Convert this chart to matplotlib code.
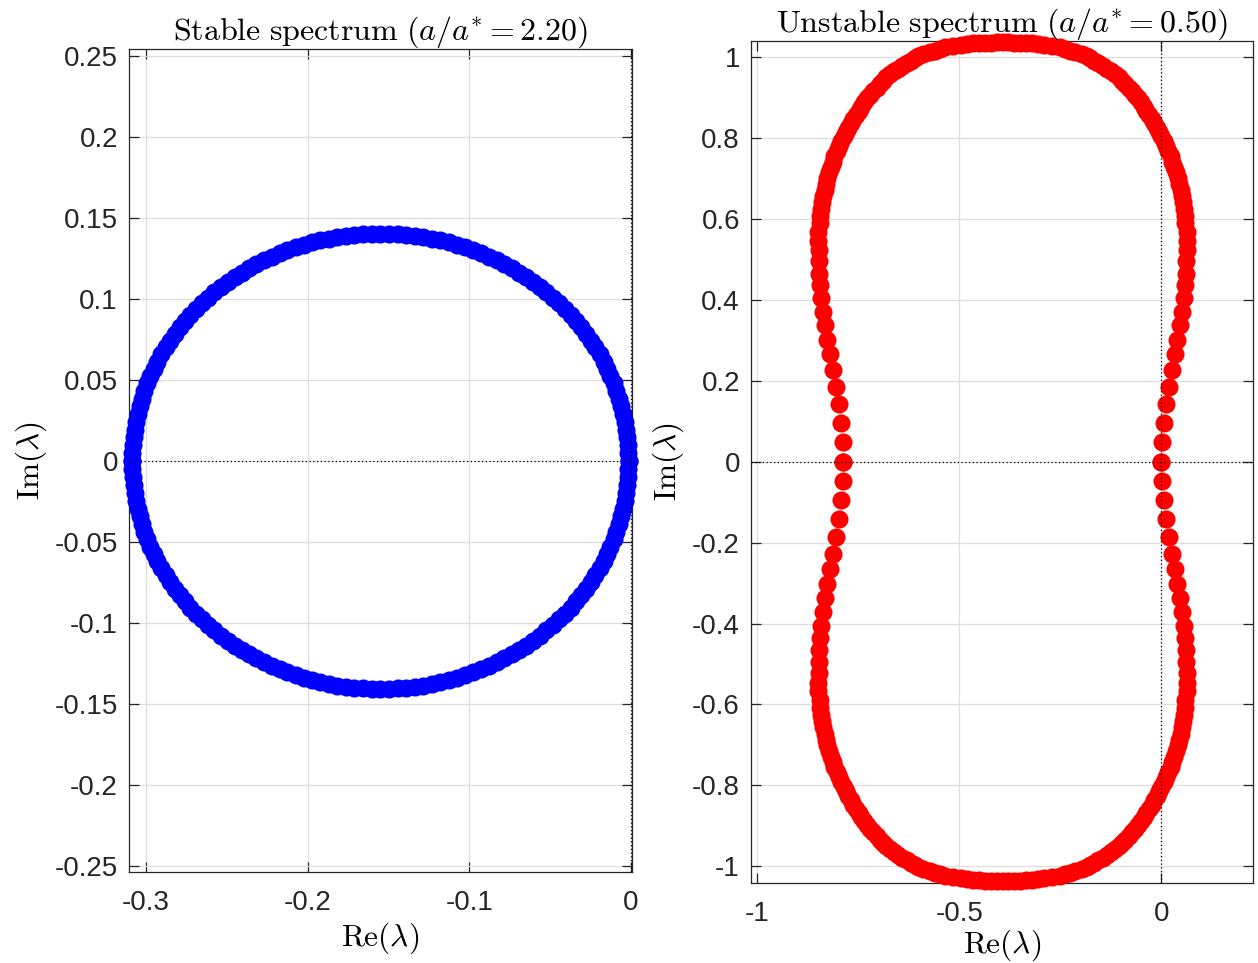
import numpy as np
import matplotlib
matplotlib.use('Agg')
import matplotlib.pyplot as plt
from matplotlib.ticker import FixedLocator, FuncFormatter

plt.rcParams['mathtext.fontset'] = 'cm'
plt.rcParams['font.family'] = ['Liberation Sans', 'DejaVu Sans']
plt.rcParams['axes.unicode_minus'] = False

# eigenvalues, upper half only (lower half = conjugates)
stable_ratio = 2.20
stable_re = [
    -0.0015, -0.0016, -0.0019, -0.0023, -0.0030, -0.0038, -0.0049, -0.0061,
    -0.0075, -0.0090, -0.0108, -0.0127, -0.0148, -0.0170, -0.0195, -0.0221,
    -0.0248, -0.0277, -0.0308, -0.0340, -0.0374, -0.0409, -0.0446, -0.0484,
    -0.0523, -0.0563, -0.0605, -0.0648, -0.0692, -0.0737, -0.0783, -0.0829,
    -0.0877, -0.0926, -0.0975, -0.1025, -0.1076, -0.1127, -0.1179, -0.1231,
    -0.1284, -0.1336, -0.1390, -0.1443, -0.1496, -0.1550,
    -0.1604, -0.1657, -0.1711, -0.1764, -0.1817, -0.1869, -0.1921, -0.1973,
    -0.2024, -0.2075, -0.2125, -0.2174, -0.2223, -0.2271, -0.2318, -0.2363,
    -0.2408, -0.2452, -0.2495, -0.2537, -0.2577, -0.2616, -0.2654, -0.2691,
    -0.2726, -0.2760, -0.2792, -0.2823, -0.2852, -0.2879, -0.2905, -0.2930,
    -0.2952, -0.2973, -0.2992, -0.3010, -0.3026, -0.3039, -0.3052, -0.3062,
    -0.3070, -0.3077, -0.3081, -0.3084, -0.3085,
]
stable_im = [
    0.0, 0.0049, 0.0098, 0.0147, 0.0196, 0.0244, 0.0292, 0.0340, 0.0387,
    0.0434, 0.0481, 0.0526, 0.0572, 0.0616, 0.0660, 0.0703, 0.0745, 0.0786,
    0.0826, 0.0865, 0.0903, 0.0940, 0.0976, 0.1011, 0.1044, 0.1076, 0.1107,
    0.1137, 0.1165, 0.1192, 0.1217, 0.1241, 0.1263, 0.1284, 0.1303, 0.1320,
    0.1336, 0.1351, 0.1363, 0.1374, 0.1384, 0.1391, 0.1397, 0.1402, 0.1404,
    0.1405,
    0.1404, 0.1402, 0.1397, 0.1391, 0.1384, 0.1374, 0.1363, 0.1351, 0.1336,
    0.1320, 0.1303, 0.1284, 0.1263, 0.1241, 0.1217, 0.1192, 0.1165, 0.1137,
    0.1107, 0.1076, 0.1044, 0.1011, 0.0976, 0.0940, 0.0903, 0.0865, 0.0826,
    0.0786, 0.0745, 0.0703, 0.0660, 0.0616, 0.0572, 0.0526, 0.0481, 0.0434,
    0.0387, 0.0340, 0.0292, 0.0244, 0.0196, 0.0147, 0.0098, 0.0049, 0.0,
]

unstable_ratio = 0.50
unstable_re_right = [
    0.0000, 0.0016, 0.0058, 0.0115, 0.0190, 0.0255, 0.0337, 0.0395, 0.0453,
    0.0502, 0.0551, 0.0576, 0.0600, 0.0610, 0.0626,
    0.0632, 0.0625, 0.0595, 0.0572, 0.0550, 0.0526, 0.0500, 0.0472, 0.0440,
    0.0401, 0.0357, 0.0308, 0.0265, 0.0227, 0.0167, 0.0112, 0.0057,
    -0.0002, -0.0061, -0.0120, -0.0180, -0.0239, -0.0303, -0.0369, -0.0435,
    -0.0501, -0.0567, -0.0645, -0.0730, -0.0814, -0.0898, -0.0972, -0.1060,
    -0.1156, -0.1240, -0.1334, -0.1454, -0.1557, -0.1659, -0.1762, -0.1849,
    -0.1965, -0.2128, -0.2258, -0.2387, -0.2518, -0.2694, -0.2910, -0.3054,
    -0.3200, -0.3350, -0.3500, -0.3650, -0.3800, -0.3930,
]
unstable_im_right = [
    0.000, 0.048, 0.0955, 0.1417, 0.185, 0.227, 0.265, 0.302, 0.3375, 0.371,
    0.405, 0.436, 0.465, 0.4955, 0.523,
    0.546, 0.568, 0.589, 0.608, 0.625, 0.641, 0.657, 0.672, 0.687, 0.701,
    0.715, 0.729, 0.742, 0.755, 0.768, 0.780, 0.792,
    0.804, 0.815, 0.826, 0.837, 0.848, 0.858, 0.868, 0.878, 0.888, 0.898,
    0.907, 0.916, 0.925, 0.934, 0.942, 0.950, 0.958, 0.965, 0.972, 0.979,
    0.985, 0.991, 0.997, 1.002, 1.007, 1.012, 1.016, 1.020, 1.024, 1.027,
    1.030, 1.032, 1.034, 1.0347, 1.0355, 1.036, 1.0367, 1.037,
]
unstable_re_left = [
    -0.4060, -0.4210, -0.4360, -0.4510, -0.4660, -0.4806, -0.4950, -0.5166,
    -0.5342, -0.5473, -0.5602, -0.5732, -0.5895, -0.6011, -0.6098, -0.6201,
    -0.6303, -0.6406, -0.6526, -0.6620, -0.6704, -0.6800, -0.6888, -0.6962,
    -0.7046, -0.7130, -0.7215, -0.7293, -0.7359, -0.7425, -0.7491, -0.7557,
    -0.7621, -0.7680, -0.7740, -0.7799, -0.7858,
    -0.7917, -0.7972, -0.8027, -0.8087, -0.8125, -0.8168, -0.8217, -0.8261,
    -0.8300, -0.8332, -0.8360, -0.8386, -0.8410, -0.8432, -0.8455, -0.8485,
    -0.8492,
    -0.8470, -0.8470, -0.8460, -0.8440, -0.8410, -0.8380, -0.8330, -0.8270,
    -0.8200, -0.8130, -0.8060, -0.7980, -0.7920, -0.7880, -0.7870,
]
unstable_im_left = [
    1.0367, 1.036, 1.0355, 1.0347, 1.034, 1.032, 1.030, 1.027, 1.024, 1.020,
    1.016, 1.012, 1.007, 1.002, 0.997, 0.991, 0.985, 0.979, 0.972, 0.965,
    0.958, 0.950, 0.942, 0.934, 0.925, 0.916, 0.907, 0.898, 0.888, 0.878,
    0.868, 0.858, 0.848, 0.837, 0.826, 0.815, 0.804,
    0.792, 0.780, 0.768, 0.755, 0.742, 0.729, 0.715, 0.701, 0.687, 0.672,
    0.657, 0.641, 0.625, 0.608, 0.589, 0.568, 0.546,
    0.523, 0.4955, 0.465, 0.436, 0.405, 0.371, 0.3375, 0.302, 0.265, 0.227,
    0.185, 0.1417, 0.0955, 0.048, 0.000,
]

stable_xticks = [-0.3, -0.2, -0.1, 0]
stable_yticks = [-0.25, -0.2, -0.15, -0.1, -0.05, 0, 0.05, 0.1, 0.15, 0.2, 0.25]
unstable_xticks = [-1, -0.5, 0]
unstable_yticks = [-1, -0.8, -0.6, -0.4, -0.2, 0, 0.2, 0.4, 0.6, 0.8, 1]

W, H = 1258, 963
dark = '#262626'


def with_conjugates(re, im):
    re = np.asarray(re)
    im = np.asarray(im)
    return np.concatenate([re, re]), np.concatenate([im, -im])


def setup_axes(ax, xticks, yticks, xlim, ylim):
    ax.set_xlim(*xlim)
    ax.set_ylim(*ylim)
    ax.xaxis.set_major_locator(FixedLocator(xticks))
    ax.yaxis.set_major_locator(FixedLocator(yticks))
    fmt = FuncFormatter(lambda v, p: f'{v:g}')
    ax.xaxis.set_major_formatter(fmt)
    ax.yaxis.set_major_formatter(fmt)
    ax.grid(True, color='#dedede', linewidth=0.9)
    ax.set_axisbelow(True)
    ax.tick_params(direction='in', top=True, right=True, length=7, width=0.9,
                   color=dark, labelcolor=dark, labelsize=20)
    ax.tick_params(axis='x', pad=13)
    ax.tick_params(axis='y', pad=8)
    for s in ax.spines.values():
        s.set_color(dark)
        s.set_linewidth(0.9)
    ax.axhline(0, color='k', linestyle=(0, (1, 2)), linewidth=0.9, zorder=5)
    ax.axvline(0, color='k', linestyle=(0, (1, 2)), linewidth=0.9, zorder=5)


def axes_rect(left, top, right, bottom):
    return [left / W, 1 - bottom / H, (right - left) / W, (bottom - top) / H]


fig = plt.figure(figsize=(W / 100, H / 100), dpi=100)

ax1 = fig.add_axes(axes_rect(129, 49, 632, 872))
re, im = with_conjugates(stable_re, stable_im)
ax1.plot(re, im, 'o', color='b', markersize=13, markeredgewidth=0,
         clip_on=False, zorder=3)
setup_axes(ax1, stable_xticks, stable_yticks, (-0.3105, 0.0006), (-0.2535, 0.2545))
ax1.set_title(r'$\mathrm{Stable\ spectrum}\ (a/a^{*} = %.2f)$' % stable_ratio,
              fontsize=23, pad=7)
ax1.set_xlabel(r'$\mathrm{Re}(\lambda)$', fontsize=22.5, labelpad=3)

ax2 = fig.add_axes(axes_rect(751, 41, 1253, 883))
re, im = with_conjugates(unstable_re_right + unstable_re_left,
                         unstable_im_right + unstable_im_left)
ax2.plot(re, im, 'o', color='r', markersize=13, markeredgewidth=0,
         clip_on=False, zorder=3)
setup_axes(ax2, unstable_xticks, unstable_yticks, (-1.015, 0.2265), (-1.0415, 1.040))
ax2.set_title(r'$\mathrm{Unstable\ spectrum}\ (a/a^{*} = %.2f)$' % unstable_ratio,
              fontsize=23, pad=7)
ax2.set_xlabel(r'$\mathrm{Re}(\lambda)$', fontsize=22.5, labelpad=0)

for ax in (ax1, ax2):
    ax.set_ylabel(r'$\mathrm{Im}(\lambda)$', fontsize=22.5, labelpad=4)

fig.savefig('out.png', dpi=100)
